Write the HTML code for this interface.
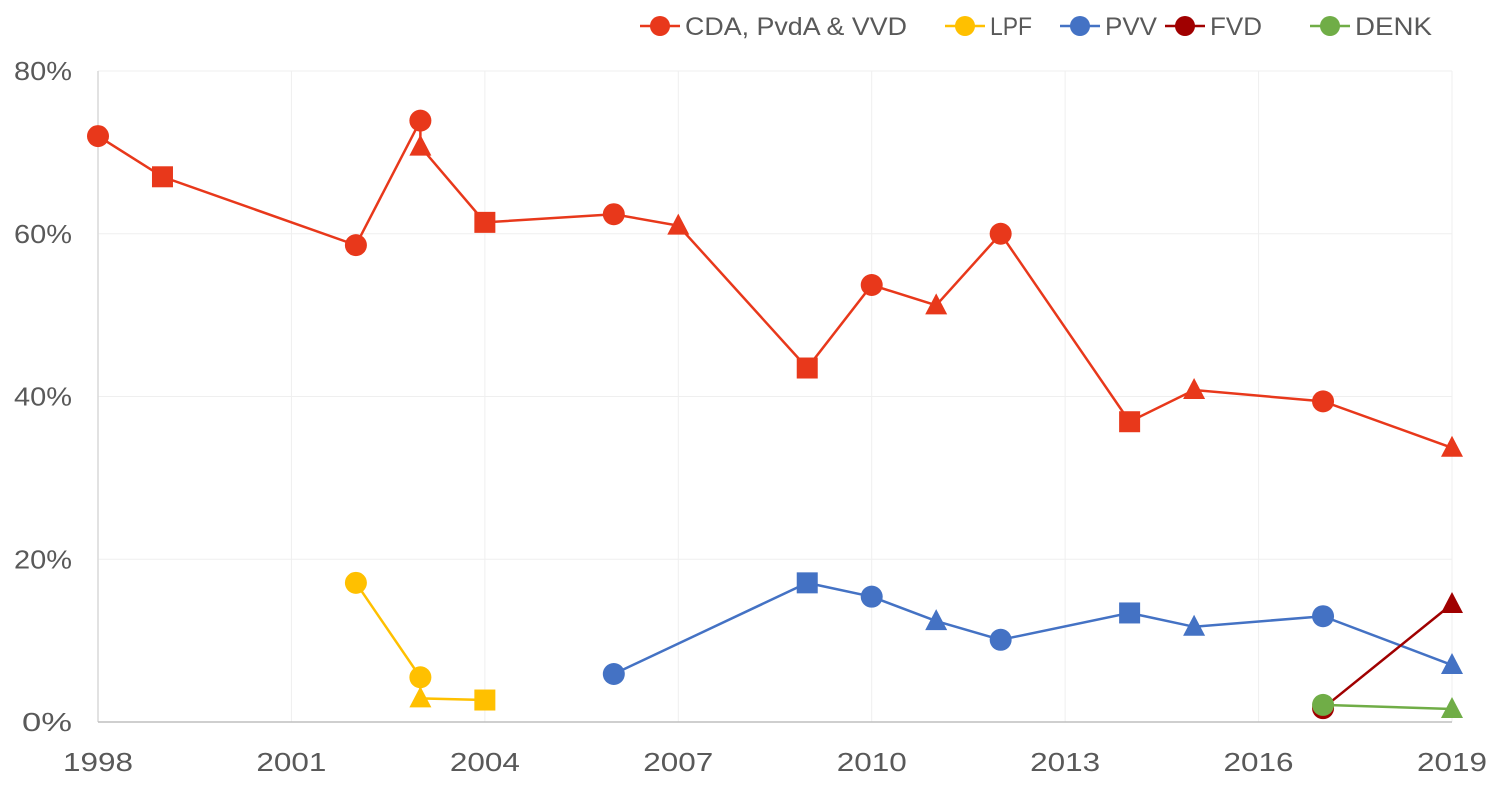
<!DOCTYPE html>
<html><head><meta charset="utf-8"><style>
body{margin:0;background:#fff;}
svg{display:block;font-family:"Liberation Sans",sans-serif;}
</style></head><body>
<svg id="chart" width="1499" height="802"></svg>
<script>
const years=[1998,2001,2004,2007,2010,2013,2016,2019];
const yTicks=[0,20,40,60,80];
const seriesNames=["CDA, PvdA & VVD","LPF","PVV","FVD","DENK"];
const seriesColors=["#e8381b","#ffc000","#4472c4","#a00000","#70ad47"];
const cdaX=[1998,1999,2002,2003,2003,2004,2006,2007,2009,2010,2011,2012,2014,2015,2017,2019];
const cdaY=[72.0,67.0,58.6,73.9,70.7,61.4,62.4,61.0,43.5,53.7,51.2,60.0,36.9,40.8,39.4,33.7];
const cdaM=["c","s","c","c","t","s","c","t","s","c","t","c","s","t","c","t"];
const lpfX=[2002,2003,2003,2004];
const lpfY=[17.1,5.5,2.9,2.7];
const lpfM=["c","c","t","s"];
const pvvX=[2006,2009,2010,2011,2012,2014,2015,2017,2019];
const pvvY=[5.9,17.1,15.4,12.4,10.1,13.4,11.7,13.0,7.0];
const pvvM=["c","s","c","t","c","s","t","c","t"];
const fvdX=[2017,2019];
const fvdY=[1.7,14.5];
const fvdM=["c","t"];
const denkX=[2017,2019];
const denkY=[2.1,1.6];
const denkM=["c","t"];

const NS="http://www.w3.org/2000/svg";
const svg=document.getElementById('chart');
const x0=98,x1=1452,y0=722,y1=71;
const xs=v=>x0+(v-1998)/21*(x1-x0);
const ys=v=>y0-v/80*(y0-y1);
function mk(t,a,p){const e=document.createElementNS(NS,t);for(const k in a)e.setAttribute(k,a[k]);(p||svg).appendChild(e);return e;}
years.forEach(y=>{const l=mk('line',{x1:xs(y),x2:xs(y),y1:y1,y2:y0,stroke:'#efefef','stroke-width':1});


const t=mk('text',{x:xs(y),y:771,'text-anchor':'middle','font-size':26,fill:'#595959',textLength:70,lengthAdjust:'spacingAndGlyphs'});t.textContent=y;

});
yTicks.forEach(v=>{if(v>0){const l=mk('line',{x1:x0,x2:x1,y1:ys(v),y2:ys(v),stroke:'#efefef','stroke-width':1});

}
const t=mk('text',{x:72,y:ys(v)+9,'text-anchor':'end','font-size':26,fill:'#595959',textLength:v===0?50:58,lengthAdjust:'spacingAndGlyphs'});t.textContent=v+'%';

});
const ax=mk('line',{x1:x0,x2:x0,y1:y1,y2:y0,stroke:'#d9d9d9','stroke-width':1.5});


const bx=mk('line',{x1:x0,x2:x1,y1:y0,y2:y0,stroke:'#bfbfbf','stroke-width':1.5});


function marker(g,type,cx,cy,c){let e;
if(type==='c')e=mk('circle',{cx:cx,cy:cy,r:11,fill:c},g);
else if(type==='s')e=mk('rect',{x:cx-10.5,y:cy-10.5,width:21,height:21,fill:c},g);
else e=mk('polygon',{points:`${cx},${cy-12} ${cx+11},${cy+9} ${cx-11},${cy+9}`,fill:c},g);

}
const all=[[cdaX,cdaY,cdaM],[lpfX,lpfY,lpfM],[pvvX,pvvY,pvvM],[fvdX,fvdY,fvdM],[denkX,denkY,denkM]];
all.forEach((s,i)=>{const g=mk('g',{});


const c=seriesColors[i];
const pts=s[0].map((x,j)=>xs(x)+','+ys(s[1][j])).join(' ');
const pl=mk('polyline',{points:pts,fill:'none',stroke:c,'stroke-width':2.5},g);


s[0].forEach((x,j)=>marker(g,s[2][j],xs(x),ys(s[1][j]),c));});
const lx=[640,945,1060,1165,1310];
const tl=[222,42,52,52,77];
seriesNames.forEach((n,i)=>{const g=mk('g',{});


mk('line',{x1:lx[i],x2:lx[i]+40,y1:26,y2:26,stroke:seriesColors[i],'stroke-width':2.5},g);
mk('circle',{cx:lx[i]+20,cy:26,r:10,fill:seriesColors[i]},g);
const t=mk('text',{x:lx[i]+45,y:35,'font-size':25,fill:'#595959',textLength:tl[i],lengthAdjust:'spacingAndGlyphs'},g);t.textContent=n;});
</script>
</body></html>
